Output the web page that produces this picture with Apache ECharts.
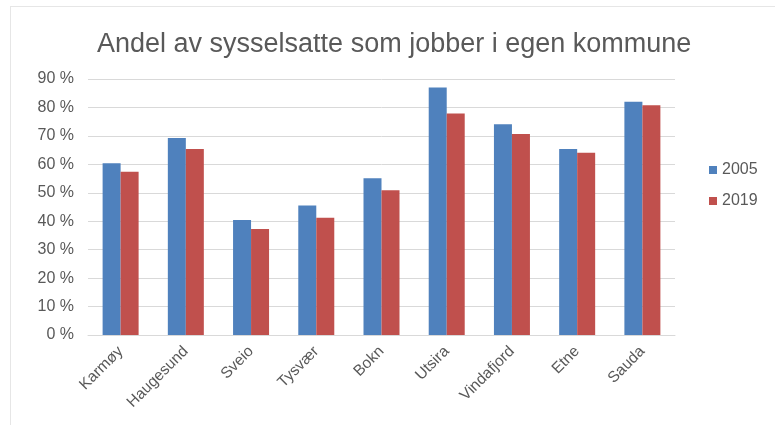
<!DOCTYPE html>
<html>
<head>
<meta charset="utf-8">
<script src="https://cdn.jsdelivr.net/npm/echarts@6/dist/echarts.min.js"></script>
<style>
  html, body { margin: 0; padding: 0; background: #fff; }
  #frame { position: absolute; left: 10px; top: 6px; width: 775px; height: 430px; border-left: 1px solid #e6e6e6; border-top: 1px solid #e6e6e6; }
  #chart { position: absolute; left: 0; top: 0; width: 775px; height: 425px; }
</style>
</head>
<body>
<div id="frame"></div>
<div id="chart"></div>
<script>
const categories = ["Karmøy", "Haugesund", "Sveio", "Tysvær", "Bokn", "Utsira", "Vindafjord", "Etne", "Sauda"];
const values2005 = [60.4, 69.3, 40.4, 45.5, 55.1, 87.0, 74.1, 65.4, 82.0];
const values2019 = [57.4, 65.4, 37.3, 41.2, 50.9, 77.9, 70.7, 64.1, 80.8];
const yTicks = [0, 10, 20, 30, 40, 50, 60, 70, 80, 90];

const chart = echarts.init(document.getElementById("chart"));
const textColor = "#595959";
const font = "Liberation Sans, Arial, sans-serif";

chart.setOption({
  animation: false,
  title: {
    text: "Andel av sysselsatte som jobber i egen kommune",
    left: 92,
    top: 26,
    textStyle: { color: textColor, fontSize: 27, fontWeight: "normal", fontFamily: font },
  },
  legend: {
    orient: "vertical",
    left: 704,
    top: 157,
    itemWidth: 8,
    itemHeight: 8,
    itemGap: 15,
    icon: "rect",
    textStyle: { color: textColor, fontSize: 16, fontFamily: font },
    data: ["2005", "2019"],
  },
  grid: { left: 88, right: 100, top: 79, bottom: 90 },
  xAxis: {
    type: "category",
    data: categories,
    axisLine: { lineStyle: { color: "#d9d9d9" } },
    axisTick: { show: false },
    axisLabel: { color: textColor, fontSize: 15.5, fontFamily: font, rotate: 45, margin: 14, interval: 0 },
  },
  yAxis: {
    type: "value",
    min: yTicks[0],
    max: yTicks[yTicks.length - 1],
    interval: 10,
    axisLine: { show: false },
    axisTick: { show: false },
    axisLabel: { color: textColor, fontSize: 16, fontFamily: font, margin: 14, formatter: v => v + " %" },
    splitLine: { lineStyle: { color: "#d9d9d9", width: 1 } },
  },
  series: [
    { name: "2005", type: "bar", data: values2005, barWidth: 18, barGap: "0%", itemStyle: { color: "#4f81bd" } },
    { name: "2019", type: "bar", data: values2019, barWidth: 18, barGap: "0%", itemStyle: { color: "#c0504d" } },
  ],
});
</script>
</body>
</html>
